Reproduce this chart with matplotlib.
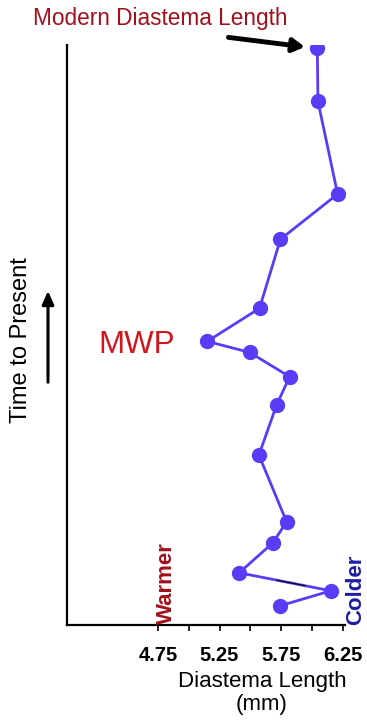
import numpy as np, matplotlib
matplotlib.use("Agg")
import matplotlib.pyplot as plt

plt.rcParams['font.family'] = ['Liberation Sans', 'DejaVu Sans']

# ---------- DATA ----------
# diastema length (mm), newest sample first
diastema = [6.045, 6.05, 6.21, 5.745, 5.575, 5.15, 5.495, 5.82, 5.715,
            5.57, 5.795, 5.685, 5.41, 6.155, 5.74]
# relative time position (0 = oldest, 100 = present), arbitrary units
time_pos = [99.4, 90.3, 74.3, 66.5, 54.6, 48.9, 47.0, 42.8, 38.0,
            29.3, 17.8, 14.2, 9.0, 5.9, 3.3]
major_ticks = [4.75, 5.25, 5.75, 6.25]
minor_ticks = [5.0, 5.5, 6.0]

line_col = "#5a3cf7"

# ---------- FIGURE ----------
W, H = 367, 721
fig = plt.figure(figsize=(W/100, H/100), dpi=100)
ax = fig.add_axes([67/W, (H-625)/H, (345-67)/W, (625-45)/H])

ax.plot(diastema, time_pos, color=line_col, lw=2, marker="o", ms=10,
        markerfacecolor=line_col, markeredgecolor=line_col, zorder=3)
# odd thin black stretch in the segment between 13th and 14th samples
x0, x1 = diastema[12], diastema[13]
y0, y1 = time_pos[12], time_pos[13]
f = np.array([0.41, 0.72])
ax.plot(x0 + f*(x1-x0), y0 + f*(y1-y0), color="black", lw=0.8, zorder=4)

ax.set_xlim(4.01, 6.27)
ax.set_ylim(0, 100)
ax.set_xticks(major_ticks)
ax.set_xticks(minor_ticks, minor=True)
ax.set_xticklabels([f"{t:.2f}" for t in major_ticks], fontsize=14.5, fontweight="bold")
ax.tick_params(axis="x", which="both", length=4, width=1.2, pad=11, direction="out")
ax.set_yticks([])
for s in ["top", "right"]:
    ax.spines[s].set_visible(False)
ax.spines["left"].set_linewidth(1.6)
ax.spines["bottom"].set_linewidth(1.6)

# ---------- TEXT ----------
fig.text(262/W, 1-693/H, "Diastema Length\n(mm)", ha="center", va="center",
         fontsize=16, linespacing=1.15)
fig.text(21/W, 1-340/H, "Time to Present", rotation=90, ha="center", va="center", fontsize=17)
ax.annotate("", xy=(48/W, 1-288/H), xytext=(48/W, 1-385/H), xycoords="figure fraction",
            textcoords="figure fraction",
            arrowprops=dict(arrowstyle="-|>,head_length=0.8,head_width=0.35", color="black", lw=2.2))

fig.text(160/W, 1-18/H, "Modern Diastema Length", ha="center", va="center",
         fontsize=16.3, color="#a3101c")
ax.annotate("", xy=(diastema[0], time_pos[0]), xytext=(-64, 8), textcoords="offset points",
            arrowprops=dict(arrowstyle="-|>,head_length=0.7,head_width=0.4", color="black",
                            lw=3.5, shrinkA=0, shrinkB=9))

ax.text(4.58, 48.3, "MWP", ha="center", va="center", fontsize=22.5, color="#d0161a")
ax.text(4.82, 7.3, "Warmer", rotation=90, ha="center", va="center", fontsize=16,
        fontweight="bold", color="#a3101c")
ax.text(6.355, 6.0, "Colder", rotation=90, ha="center", va="center", fontsize=16,
        fontweight="bold", color="#1c1ca6", clip_on=False)

fig.savefig("out.png", dpi=100)
